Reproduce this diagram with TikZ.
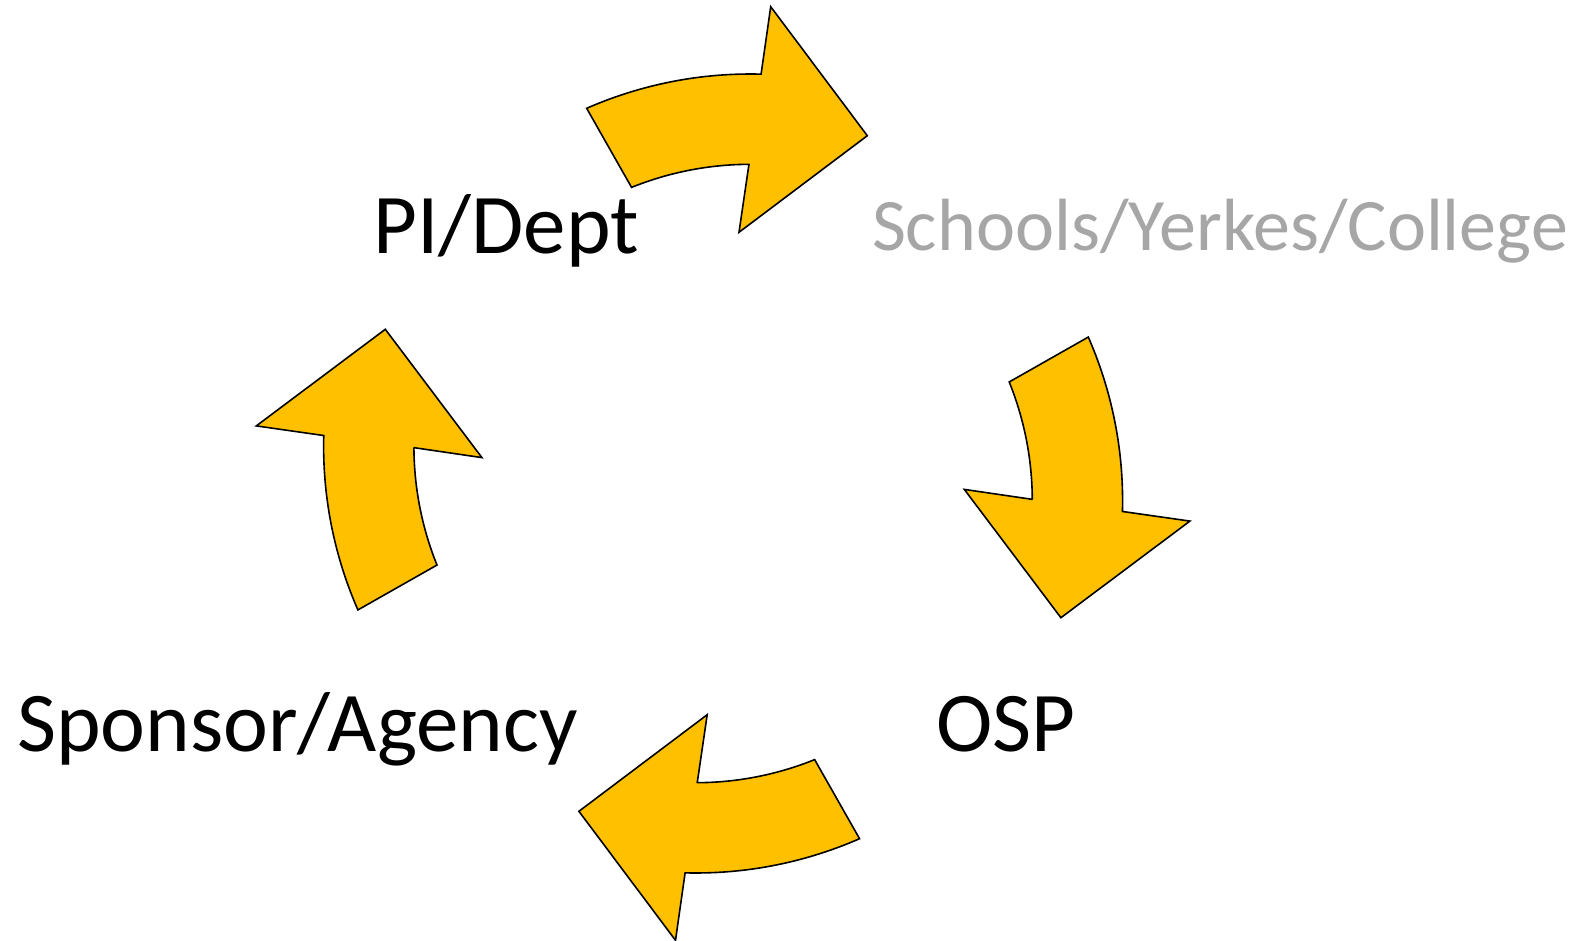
\documentclass[tikz,border=0pt]{standalone}
\usepackage{fontspec}
\setmainfont{Carlito}
\definecolor{arrowgold}{RGB}{255,192,0}
\definecolor{labelgray}{RGB}{166,166,166}
\tikzset{
  cyclearrow/.style={fill=arrowgold, draw=black, line width=1.6pt, line join=miter},
  biglabel/.style={inner sep=0pt, anchor=base, font=\fontsize{85}{100}\selectfont},
}
\begin{document}
\begin{tikzpicture}[x=1pt,y=1pt]
\useasboundingbox (0,0) rectangle (1585,-941);
\foreach \r in {0,-90,-180,-270}{
  \begin{scope}[shift={(723.1,-473.5)}, rotate=\r]
    \draw[cyclearrow]
      plot[domain=113.66:88.5, samples=40] ({27.3+408*cos(\x)},{-8.5+408*sin(\x)})
      -- (47.6,466.8) -- (144.2,337.8) -- (15.9,241.2) -- (25.9,309.5)
      -- plot[domain=90.25:111.97, samples=40] ({27.3+317.7*cos(\x)},{-8.5+317.7*sin(\x)})
      -- cycle;
  \end{scope}
}
\node[biglabel] (pi) at (506,-254) {PI/Dept};
\node[biglabel, text=labelgray, font=\fontsize{74}{90}\selectfont] (sch) at (1220,-251) {Schools/Yerkes/College};
\node[biglabel] (osp) at (1006,-751) {OSP};
\node[biglabel] (spon) at (297.5,-751) {Sponsor/Agency};
\end{tikzpicture}
\end{document}
